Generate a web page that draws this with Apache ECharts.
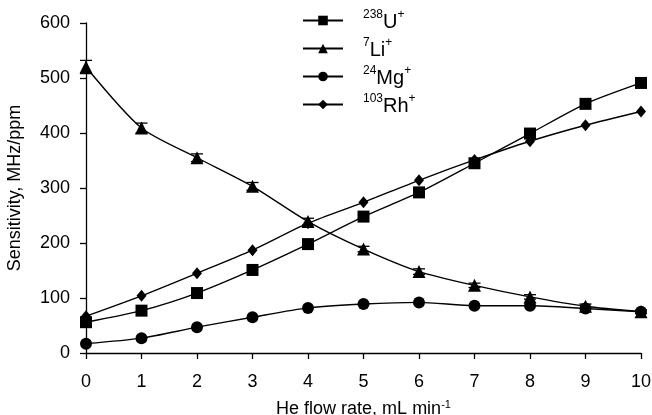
<!DOCTYPE html>
<html>
<head>
    <meta charset="UTF-8">
    <script src="https://cdn.jsdelivr.net/npm/echarts@6/dist/echarts.min.js"></script>
</head>
<body style="margin:0">
    <div id="main" style="width: 652px; height: 415px;"></div>
    <script>
        // He flow rate, mL/min
        var flow = [0, 1, 2, 3, 4, 5, 6, 7, 8, 9, 10];
        // sensitivity values
        var u238 = [56, 77, 109, 151, 198, 248, 292, 345, 399, 453, 491];
        var li7 = [520, 409, 355, 303, 239, 189, 148, 123, 102, 85, 75];
        var mg24 = [17, 27, 47, 65, 82, 89, 92, 86, 86, 81, 75];
        var rh103 = [67, 104, 145, 187, 236, 274, 314, 351, 385, 414, 439];
        var li7Err = [12, 9, 7, 7, 6, 5, 5, 4, 4, 4, 3];
        var yTicks = [0, 100, 200, 300, 400, 500, 600];

        var mass = { 'U': '238', 'Li': '7', 'Mg': '24', 'Rh': '103' };

        function pairs(ys) {
            return ys.map(function (v, i) { return [flow[i], v]; });
        }

        var myChart = echarts.init(document.getElementById('main'));
        var font = 'Liberation Sans, Arial, sans-serif';

        var lineBase = {
            type: 'line',
            smooth: 0.25,
            symbolSize: 10,
            lineStyle: { color: '#000', width: 1.4 },
            itemStyle: { color: '#000' },
            z: 3
        };

        var option = {
            animation: false,
            textStyle: { fontFamily: font, color: '#000' },
            grid: { left: 86, right: 11, top: 23, bottom: 62, outerBoundsMode: 'none' },
            legend: {
                orient: 'vertical',
                left: 302,
                top: 4,
                padding: [5, 5, 5, 0],
                itemWidth: 40,
                itemHeight: 12,
                itemGap: 5,
                data: ['U', 'Li', 'Mg', 'Rh'],
                formatter: function (name) {
                    return '{s|' + mass[name] + '}{m|' + name + '}{s|+}';
                },
                textStyle: {
                    fontFamily: font,
                    color: '#000',
                    padding: [0, 0, 0, 15],
                    rich: {
                        s: { fontSize: 12, verticalAlign: 'top', lineHeight: 23, fontFamily: font },
                        m: { fontSize: 20, verticalAlign: 'bottom', lineHeight: 23, fontFamily: font }
                    }
                }
            },
            xAxis: {
                type: 'value',
                min: 0,
                max: 10,
                interval: 1,
                name: 'He flow rate, mL min{s|-1}',
                nameLocation: 'middle',
                nameGap: 46,
                nameTextStyle: {
                    fontSize: 18,
                    fontFamily: font,
                    color: '#000',
                    rich: {
                        s: { fontSize: 11, verticalAlign: 'top', lineHeight: 20, fontFamily: font }
                    }
                },
                axisLine: { onZero: false, lineStyle: { color: '#000', width: 1.3 } },
                axisTick: { inside: false, length: 6, lineStyle: { color: '#000', width: 1.3 } },
                axisLabel: { fontSize: 18, margin: 20, color: '#000', fontFamily: font },
                splitLine: { show: false }
            },
            yAxis: {
                type: 'value',
                min: yTicks[0],
                max: yTicks[yTicks.length - 1],
                interval: 100,
                name: 'Sensitivity, MHz/ppm',
                nameLocation: 'middle',
                nameGap: 62,
                nameTextStyle: { fontSize: 18, fontFamily: font, color: '#000' },
                axisLine: { show: true, lineStyle: { color: '#000', width: 1.3 } },
                axisTick: { inside: false, length: 6, lineStyle: { color: '#000', width: 1.3 } },
                axisLabel: { fontSize: 18, margin: 16, color: '#000', fontFamily: font },
                splitLine: { show: false }
            },
            series: [
                Object.assign({}, lineBase, { name: 'U', symbol: 'rect', symbolSize: 12, data: pairs(u238) }),
                Object.assign({}, lineBase, { name: 'Li', symbol: 'triangle', symbolSize: 13, data: pairs(li7) }),
                Object.assign({}, lineBase, { name: 'Mg', symbol: 'circle', symbolSize: 12, data: pairs(mg24) }),
                Object.assign({}, lineBase, { name: 'Rh', symbol: 'diamond', symbolSize: [10, 12], data: pairs(rh103) }),
                {
                    type: 'custom',
                    name: 'LiErr',
                    z: 2,
                    data: li7.map(function (v, i) { return [flow[i], v - li7Err[i], v + li7Err[i]]; }),
                    renderItem: function (params, api) {
                        var lo = api.coord([api.value(0), api.value(1)]);
                        var hi = api.coord([api.value(0), api.value(2)]);
                        var w = 6;
                        var st = { stroke: '#000', lineWidth: 1.3 };
                        return {
                            type: 'group',
                            children: [
                                { type: 'line', shape: { x1: lo[0], y1: lo[1], x2: hi[0], y2: hi[1] }, style: st },
                                { type: 'line', shape: { x1: hi[0] - w, y1: hi[1], x2: hi[0] + w, y2: hi[1] }, style: st },
                                { type: 'line', shape: { x1: lo[0] - w, y1: lo[1], x2: lo[0] + w, y2: lo[1] }, style: st }
                            ]
                        };
                    }
                }
            ]
        };

        myChart.setOption(option);
    </script>
</body>
</html>
